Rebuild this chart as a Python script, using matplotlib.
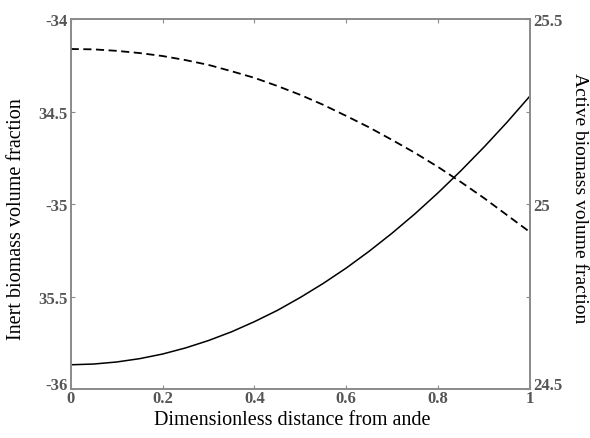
import numpy as np
import matplotlib
matplotlib.use('Agg')
import matplotlib.pyplot as plt
from matplotlib.transforms import ScaledTranslation

plt.rcParams['font.family'] = ['Liberation Serif', 'DejaVu Serif']

# Data
x = [0.0, 0.05, 0.1, 0.15, 0.2, 0.25, 0.3, 0.35, 0.4, 0.45, 0.5,
     0.55, 0.6, 0.65, 0.7, 0.75, 0.8, 0.85, 0.9, 0.95, 1.0]
inert = [-35.869, -35.865, -35.854, -35.836, -35.811, -35.778, -35.738,
         -35.691, -35.636, -35.575, -35.505, -35.429, -35.346, -35.255,
         -35.157, -35.052, -34.939, -34.819, -34.692, -34.558, -34.416]
active = [25.419, 25.418, 25.414, 25.408, 25.400, 25.389, 25.376,
          25.359, 25.341, 25.319, 25.295, 25.268, 25.238, 25.207,
          25.173, 25.138, 25.100, 25.059, 25.016, 24.970, 24.924]

x_ticks = [0, 0.2, 0.4, 0.6, 0.8, 1]
x_tick_labels = ['0', '0.2', '0.4', '0.6', '0.8', '1']
left_ticks = [-36, -35.5, -35, -34.5, -34]
left_tick_labels = ['-36', '35.5', '-35', '34.5', '-34']
right_ticks = [24.5, 24.75, 25, 25.25, 25.5]
right_tick_labels = ['24.5', '', '25', '', '25.5']

spine_col = '#8a8a8a'
tick_col = '#555555'

fig = plt.figure(figsize=(5.9, 4.39), dpi=100)
ax = fig.add_axes([0.1198, 0.1116, 0.7785, 0.8428])
ax2 = ax.twinx()

ax.plot(x, inert, color='black', linewidth=1.1)
ax2.plot(x, active, color='black', linewidth=1.3, linestyle=(0, (4.5, 2.5)))

ax.set_xlim(0, 1)
ax.set_ylim(-36, -34)
ax2.set_ylim(24.5, 25.5)

ax.set_xticks(x_ticks)
ax.set_xticklabels(x_tick_labels)
ax.set_yticks(left_ticks)
ax.set_yticklabels(left_tick_labels)
ax2.set_yticks(right_ticks)
ax2.set_yticklabels(right_tick_labels)

for a in (ax, ax2):
    for s in a.spines.values():
        s.set_color(spine_col)
        s.set_linewidth(1.2)

ax.tick_params(axis='x', direction='in', top=True, length=3, color=spine_col,
               labelsize=12, labelcolor=tick_col, pad=1)
ax.tick_params(axis='y', direction='in', right=False, length=3, color=spine_col,
               labelsize=12, labelcolor=tick_col, pad=2)
ax2.tick_params(axis='y', direction='in', length=3, color=spine_col,
                labelsize=12, labelcolor=tick_col, pad=2)
for lab in ax.get_xticklabels() + ax.get_yticklabels() + ax2.get_yticklabels():
    lab.set_fontweight('bold')

# corner labels sit a little higher in the original
up = ScaledTranslation(0, 4 / 72, fig.dpi_scale_trans)
for t in (ax.yaxis.get_major_ticks()[0], ax2.yaxis.get_major_ticks()[0]):
    for lab in (t.label1, t.label2):
        lab.set_transform(lab.get_transform() + up)

ax.set_xlabel('Dimensionless distance from ande', fontsize=14.5, va='center')
ax.xaxis.set_label_coords(0.483, -0.082)
ax.set_ylabel('Inert biomass volume fraction', fontsize=14.5, va='center')
ax.yaxis.set_label_coords(-0.117, 0.462)
ax2.set_ylabel('Active biomass volume fraction', fontsize=14, rotation=-90,
               va='center')
ax2.yaxis.set_label_coords(1.108, 0.519)

fig.savefig('out.png', dpi=100)
